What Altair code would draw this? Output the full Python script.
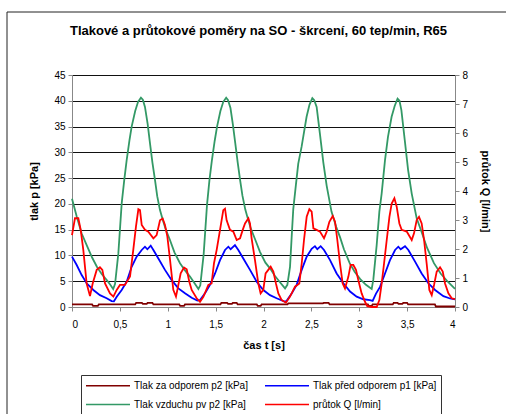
import altair as alt
import pandas as pd

# ---- data ----
series_names = ["Tlak za odporem p2 [kPa]", "Tlak před odporem p1 [kPa]",
                "Tlak vzduchu pv p2 [kPa]", "průtok Q [l/min]"]
series_colors = ["#800000", "#0000FF", "#339966", "#FF0000"]
chart_title = "Tlakové a průtokové poměry na SO - škrcení, 60 tep/min, R65"

t_p2 = [0.00, 0.21, 0.22, 0.27, 0.28, 0.66, 0.67, 0.73, 0.74, 0.78, 0.79, 0.84, 0.85,
        1.12, 1.13, 1.17, 1.18, 1.55, 1.56, 1.62, 1.63, 1.67, 1.68, 1.72, 1.73, 1.93, 1.94,
        1.97, 1.98, 2.25, 2.26, 2.62, 2.63, 2.68, 2.69, 3.09, 3.10, 3.13, 3.14, 3.35, 3.36,
        3.40, 3.41, 3.45, 3.46, 3.50, 3.51, 3.79, 3.80, 4.00]
p2 = [0.5, 0.5, 0.2, 0.2, 0.5, 0.5, 0.8, 0.8, 0.6, 0.6, 0.8, 0.8, 0.5,
      0.5, 0.2, 0.2, 0.5, 0.5, 0.8, 0.8, 0.6, 0.6, 0.8, 0.8, 0.5, 0.5, 0.2,
      0.2, 0.5, 0.5, 0.7, 0.7, 0.8, 0.8, 0.5, 0.5, 0.2, 0.2, 0.5, 0.5, 0.8,
      0.8, 0.6, 0.6, 0.8, 0.8, 0.5, 0.5, 0.1, 0.1]

t_p1 = [0.000, 0.049, 0.101, 0.153, 0.223, 0.292, 0.362, 0.414, 0.438, 0.467, 0.519, 0.571,
        0.623, 0.675, 0.728, 0.762, 0.787, 0.822, 0.850, 0.902, 0.971, 1.041, 1.111, 1.180,
        1.250, 1.309, 1.337, 1.389, 1.441, 1.494, 1.546, 1.598, 1.633, 1.657, 1.702, 1.737,
        1.789, 1.859, 1.929, 1.998, 2.068, 2.137, 2.225, 2.242, 2.294, 2.346, 2.399, 2.451,
        2.503, 2.537, 2.562, 2.597, 2.632, 2.695, 2.764, 2.834, 2.904, 2.973, 3.043, 3.112,
        3.140, 3.175, 3.217, 3.269, 3.321, 3.374, 3.408, 3.433, 3.478, 3.513, 3.583, 3.652,
        3.722, 3.792, 3.879, 3.948, 4.000]
p1 = [9.76, 8.15, 6.2, 4.6, 3.3, 2.3, 1.7, 1.16, 1.1, 2.0, 3.3, 4.9,
      7.8, 9.76, 11.06, 11.7, 11.2, 11.9, 11.06, 9.4, 7.2, 5.2, 3.6, 2.65,
      1.8, 1.23, 1.35, 2.65, 4.3, 6.5, 9.1, 11.06, 11.7, 11.2, 12.0, 11.06,
      9.4, 7.2, 4.9, 3.3, 2.3, 1.7, 1.0, 1.2, 2.6, 4.3, 7.2, 9.76,
      11.3, 11.8, 11.2, 11.8, 11.06, 9.1, 6.5, 4.6, 3.0, 2.0, 1.5, 1.35,
      1.2, 2.6, 3.9, 6.5, 9.1, 11.06, 11.7, 11.2, 11.8, 11.06, 8.8, 6.5,
      4.6, 3.3, 2.1, 1.65, 1.5]

t_pv = [0.00, 0.05, 0.10, 0.16, 0.21, 0.26, 0.31, 0.365, 0.40, 0.43,
        0.45, 0.484, 0.519, 0.545, 0.571, 0.60, 0.623, 0.66, 0.69, 0.72,
        0.74, 0.762, 0.79, 0.815, 0.84, 0.867, 0.89, 0.919, 0.95, 0.98, 1.023, 1.07,
        1.128, 1.18, 1.232, 1.28, 1.32,
        1.34, 1.375, 1.41, 1.435, 1.46, 1.49, 1.515, 1.55, 1.58, 1.61,
        1.63, 1.655, 1.68, 1.705, 1.73, 1.755, 1.78, 1.81, 1.84, 1.87, 1.915, 1.963,
        2.02, 2.068, 2.12, 2.172, 2.225,
        2.249, 2.277, 2.294, 2.311, 2.339, 2.363, 2.398, 2.45, 2.48, 2.51,
        2.53, 2.555, 2.59, 2.625, 2.66, 2.71, 2.76, 2.80, 2.84, 2.90, 2.95, 3.01, 3.07, 3.13,
        3.147, 3.182, 3.21, 3.234, 3.269, 3.30, 3.338, 3.37, 3.40,
        3.42, 3.44, 3.475, 3.51, 3.548, 3.60, 3.652, 3.71, 3.78, 3.85, 3.93, 4.00]
pv = [21.0, 17.5, 14.3, 11.7, 9.6, 7.8, 6.4, 5.2, 4.3, 3.5,
      4.5, 10.4, 20.1, 24.5, 28.5, 32.3, 35.0, 38.0, 39.8, 40.6,
      40.2, 38.8, 35.5, 31.7, 28.0, 24.6, 21.5, 18.8, 16.8, 15.0, 13.0, 10.6,
      8.5, 7.1, 5.9, 4.6, 3.5,
      4.2, 10.2, 19.8, 24.5, 28.3, 32.2, 35.0, 38.0, 39.8, 40.6,
      40.1, 38.6, 35.4, 31.8, 28.1, 24.7, 21.6, 18.9, 16.9, 15.1, 13.0, 10.7,
      8.6, 7.5, 6.0, 4.8, 3.6,
      4.3, 7.8, 13.5, 19.0, 23.8, 27.8, 31.1, 36.9, 39.2, 40.5,
      40.1, 38.8, 33.5, 28.0, 23.5, 18.5, 15.5, 13.5, 11.2, 8.5, 6.9, 5.4, 4.3, 3.5,
      5.3, 12.0, 18.5, 22.0, 28.5, 33.0, 36.9, 39.0, 40.4,
      40.0, 38.2, 32.4, 26.6, 22.0, 17.2, 14.5, 11.4, 8.5, 6.5, 4.8, 3.5]

t_q = [0.000, 0.031, 0.066, 0.091, 0.118, 0.153, 0.188, 0.216, 0.258, 0.292, 0.317, 0.345,
       0.397, 0.432, 0.467, 0.501, 0.553, 0.606, 0.640, 0.668, 0.693, 0.710, 0.728, 0.762,
       0.797, 0.850, 0.884, 0.919, 0.947, 0.971, 0.996, 1.024, 1.058, 1.086, 1.135, 1.170,
       1.198, 1.225, 1.250, 1.302, 1.337, 1.372, 1.424, 1.458, 1.483, 1.511, 1.546, 1.580,
       1.598, 1.615, 1.650, 1.685, 1.720, 1.755, 1.783, 1.807, 1.842, 1.859, 1.876, 1.911,
       1.946, 1.970, 1.998, 2.022, 2.050, 2.075, 2.103, 2.130, 2.155, 2.190, 2.235, 2.277,
       2.329, 2.374, 2.399, 2.423, 2.451, 2.479, 2.503, 2.521, 2.555, 2.590, 2.632, 2.660,
       2.688, 2.723, 2.747, 2.771, 2.799, 2.827, 2.851, 2.886, 2.910, 2.938, 2.966, 2.990,
       3.025, 3.060, 3.084, 3.130, 3.182, 3.210, 3.234, 3.259, 3.287, 3.315, 3.339, 3.367,
       3.391, 3.419, 3.443, 3.496, 3.548, 3.572, 3.600, 3.624, 3.652, 3.677, 3.704, 3.732,
       3.757, 3.781, 3.809, 3.844, 3.872, 3.896, 3.931, 3.966, 4.000]
q = [2.48, 3.06, 3.06, 2.66, 1.97, 0.81, 0.38, 0.81, 1.28, 1.37, 1.28, 0.81,
     0.47, 0.36, 0.59, 0.76, 0.76, 1.05, 1.97, 2.77, 3.37, 3.34, 2.83, 2.66,
     2.60, 2.37, 2.48, 2.99, 3.05, 2.83, 2.43, 1.62, 0.59, 0.36, 1.16, 1.36,
     1.30, 0.87, 0.59, 0.30, 0.18, 0.35, 0.76, 0.81, 1.51, 1.97, 2.66, 3.34,
     3.39, 2.99, 2.66, 2.60, 2.31, 2.37, 2.66, 2.88, 3.06, 2.88, 2.37, 1.62,
     0.81, 0.47, 0.59, 1.16, 1.28, 1.39, 1.22, 0.81, 0.47, 0.24, 0.15, 0.36,
     0.70, 0.81, 1.50, 2.31, 3.11, 3.37, 3.29, 2.71, 2.66, 2.60, 2.37, 2.60,
     2.94, 3.14, 2.94, 2.31, 1.50, 0.81, 0.64, 1.04, 1.45, 1.45, 1.28, 0.93,
     0.47, 0.18, 0.03, 0.00, 0.00, 0.24, 0.81, 1.50, 2.31, 3.11, 3.57, 3.75,
     3.46, 2.88, 2.66, 2.60, 2.31, 2.54, 3.00, 3.11, 2.88, 2.31, 1.50, 0.59,
     0.41, 0.76, 1.22, 1.37, 1.22, 0.81, 0.47, 0.30, 0.27]

x_ticks = [0, 0.5, 1, 1.5, 2, 2.5, 3, 3.5, 4]
left_ticks = [0, 5, 10, 15, 20, 25, 30, 35, 40, 45]
right_ticks = [0, 1, 2, 3, 4, 5, 6, 7, 8]

# ---- tables ----
kpa = pd.concat([
    pd.DataFrame({"t": t_p2, "v": p2, "s": series_names[0]}),
    pd.DataFrame({"t": t_p1, "v": p1, "s": series_names[1]}),
    pd.DataFrame({"t": t_pv, "v": pv, "s": series_names[2]}),
], ignore_index=True)
flow = pd.DataFrame({"t": t_q, "v": q, "s": series_names[3]})

FONT = "Liberation Sans"

color = alt.Color(
    "s:N",
    scale=alt.Scale(domain=series_names, range=series_colors),
    legend=alt.Legend(
        title=None, orient="none", legendX=9, legendY=300, columns=2,
        direction="horizontal",
        symbolType="M-4,0H4", symbolSize=121, symbolStrokeWidth=1.5,
        symbolOffset=16.5,
        labelFont=FONT, labelFontSize=10, labelColor="black", labelLimit=300,
        strokeColor="#333333", padding=4, rowPadding=7, columnPadding=14,
        labelOffset=19.5,
    ),
)

x_enc = alt.X(
    "t:Q",
    scale=alt.Scale(domain=[0, 4], nice=False, zero=False),
    axis=alt.Axis(
        values=x_ticks, title="čas t [s]", grid=False,
        labelExpr="replace(toString(datum.value), '.', ',')",
        tickSize=4, labelPadding=8, titlePadding=10,
    ),
)

deco = pd.DataFrame({"label": [chart_title]})

frame = alt.Chart(deco).mark_rect(
    fill=None, stroke="#222222", strokeWidth=1
).encode(x=alt.value(-65), x2=alt.value(445), y=alt.value(-63), y2=alt.value(350))

title_txt = alt.Chart(deco).mark_text(
    font=FONT, fontSize=13, fontWeight="bold", color="black",
    align="center", baseline="middle",
).encode(x=alt.value(186.5), y=alt.value(-44), text="label:N")

left = alt.Chart(kpa).mark_line(strokeWidth=1.8).encode(
    x=x_enc,
    y=alt.Y(
        "v:Q",
        scale=alt.Scale(domain=[0, 45], nice=False),
        axis=alt.Axis(values=left_ticks, title="tlak p [kPa]", orient="left",
                      grid=True, gridColor="#111111", gridWidth=1,
                      tickSize=4, labelPadding=3, titlePadding=14),
    ),
    color=color,
)

right = alt.Chart(flow).mark_line(strokeWidth=1.8).encode(
    x=x_enc,
    y=alt.Y(
        "v:Q",
        scale=alt.Scale(domain=[0, 8], nice=False),
        axis=alt.Axis(values=right_ticks, title="průtok Q [l/min]", orient="right",
                      grid=False, tickSize=4, labelPadding=3, titlePadding=12),
    ),
    color=color,
)

chart = alt.layer(frame, title_txt, left, right).resolve_scale(y="independent").properties(
    width=383, height=232,
    autosize=alt.AutoSizeParams(type="none"),
    padding={"left": 72, "top": 75, "right": 51, "bottom": 107},
).configure_view(stroke="black", strokeWidth=1).configure_axis(
    labelFont=FONT, labelFontSize=10, labelColor="black",
    titleFont=FONT, titleFontSize=9.5, titleFontWeight="bold", titleColor="black",
    domainColor="black", tickColor="black",
).configure(background="white")

chart.save("out.html", embed_options={"renderer": "svg", "actions": False})
